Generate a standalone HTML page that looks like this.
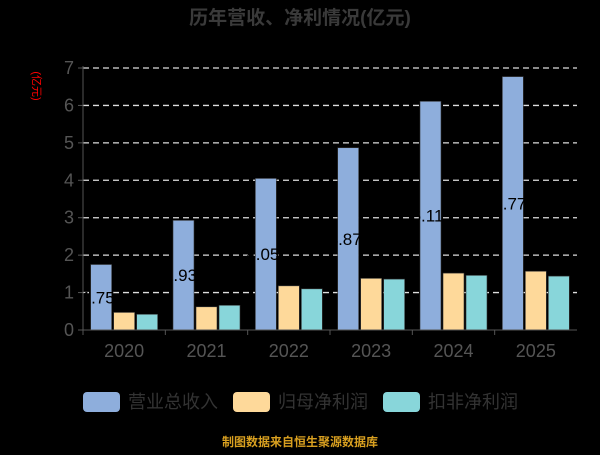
<!DOCTYPE html>
<html><head><meta charset="utf-8"><style>
html,body{margin:0;padding:0;background:#000;}
svg text{font-family:"Liberation Sans","Noto Sans CJK SC",sans-serif;}
</style></head><body>
<svg id="chart" width="600" height="450" xmlns="http://www.w3.org/2000/svg">
<rect width="600" height="450" fill="#000"/>
<text x="300" y="24" text-anchor="middle" font-size="19" font-weight="bold" fill="#3a3a3a">历年营收、净利情况(亿元)</text>
<text x="0" y="0" transform="translate(33,86) rotate(90)" text-anchor="middle" font-size="11" fill="#ff0000">(亿元)</text>
<g id="grid"></g><g id="bars0"></g><g id="labels"></g><g id="bars"></g><g id="axes"></g>
<g>
<rect x="83" y="392" width="37" height="20" rx="4" fill="#8eaedc"/>
<text x="128" y="408" font-size="18" fill="#333">营业总收入</text>
<rect x="233" y="392" width="37" height="20" rx="4" fill="#fed99a"/>
<text x="278" y="408" font-size="18" fill="#333">归母净利润</text>
<rect x="383" y="392" width="37" height="20" rx="4" fill="#88d6da"/>
<text x="428" y="408" font-size="18" fill="#333">扣非净利润</text>
</g>
<text x="300" y="446" text-anchor="middle" font-size="12" font-weight="bold" fill="#d9a020">制图数据来自恒生聚源数据库</text>
</svg>
<script>
const categories=["2020","2021","2022","2023","2024","2025"];
const revenue=[1.75,2.93,4.05,4.87,6.11,6.77];
const netProfit=[0.47,0.62,1.18,1.38,1.52,1.57];
const deductedProfit=[0.42,0.66,1.10,1.36,1.46,1.44];
const yTicks=[0,1,2,3,4,5,6,7];
const NS="http://www.w3.org/2000/svg";
const x0=83,x1=577,y0=330,yTop=68,yMax=7;
const y=v=>y0-(v/yMax)*(y0-yTop);
const bw=(x1-x0)/categories.length;
function mk(tag,attrs,parent){const e=document.createElementNS(NS,tag);for(const k in attrs)e.setAttribute(k,attrs[k]);parent.appendChild(e);return e;}
const grid=document.getElementById('grid'),bars=document.getElementById('bars'),bars0=document.getElementById('bars0'),axes=document.getElementById('axes'),labels=document.getElementById('labels');
yTicks.forEach(t=>{
 if(t>0){const l=mk('line',{x1:x0,x2:x1,y1:y(t),y2:y(t),stroke:'#ddd','stroke-dasharray':'6,4','stroke-width':1.3},grid);
 
 }
 const tk=mk('line',{x1:x0-5,x2:x0,y1:y(t),y2:y(t),stroke:'#555'},axes);
 
 
 const tx=mk('text',{x:x0-9,y:y(t)+6,'text-anchor':'end','font-size':18,fill:'#555'},axes);
 tx.textContent=t;
 
 
});
const ya=mk('line',{x1:x0,x2:x0,y1:yTop-2,y2:y0,stroke:'#555'},axes);


const xa=mk('line',{x1:x0,x2:x1,y1:y0,y2:y0,stroke:'#555'},axes);


const series=[[revenue,'#8eaedc','bar-revenue'],[netProfit,'#fed99a','bar-net-profit'],[deductedProfit,'#88d6da','bar-deducted-profit']];
const w=21,gap=2,groupW=3*w+2*gap;
categories.forEach((c,i)=>{
 const cx=x0+bw*(i+0.5);
 const tk=mk('line',{x1:x0+bw*i,x2:x0+bw*i,y1:y0,y2:y0+5,stroke:'#555'},axes);
 
 
 const tx=mk('text',{x:cx,y:y0+27,'text-anchor':'middle','font-size':18,fill:'#555'},axes);
 tx.textContent=c;
 
 
 series.forEach((s,j)=>{
  const v=s[0][i];const bx=cx-groupW/2+j*(w+gap);
  const r=mk('rect',{x:bx,y:y(v),width:w,height:y0-y(v),fill:s[1],stroke:'#333','stroke-width':0.6},j===0?bars0:bars);
  
  
 });
 const bx=cx-groupW/2+w/2;
 const lb=mk('text',{x:bx-3,y:(y(revenue[i])+y0)/2+6,'text-anchor':'middle','font-size':17,fill:'#000'},labels);
 lb.textContent=revenue[i].toFixed(2);
 
 
});
</script>
</body></html>
